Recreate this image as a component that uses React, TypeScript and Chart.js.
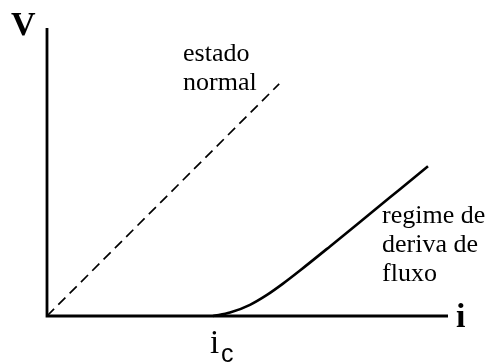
import React, { useEffect, useRef } from "react";
import { Chart, registerables } from "chart.js";

Chart.register(...registerables);

// Axes frame (data units)
const axisPoints = [
  { x: 0, y: 10 },
  { x: 0, y: 0 },
  { x: 10, y: 0 },
];

// "estado normal" dashed line
const normalX = [0, 5.79];
const normalY = [0, 8.06];

// "regime de deriva de fluxo" curve
const flowX = [4.14, 4.564, 5.062, 5.486, 5.885, 6.309, 7.057, 8.055, 8.803, 9.501];
const flowY = [0, 0.118, 0.389, 0.733, 1.125, 1.58, 2.417, 3.552, 4.405, 5.201];

const labelV = "V";
const labelI = "i";
const labelIc = ["i", "c"];
const labelNormal = ["estado", "normal"];
const labelFlow = ["regime de", "deriva de", "fluxo"];

const SERIF = '"Liberation Serif", "Times New Roman", serif';
const SANS = '"Liberation Sans", Arial, sans-serif';

const textPlugin = {
  id: "textLabels",
  afterDatasetsDraw(chart: any) {
    const ctx = chart.ctx as CanvasRenderingContext2D;
    ctx.save();
    ctx.fillStyle = "#000";
    ctx.textBaseline = "alphabetic";
    ctx.textAlign = "left";

    ctx.font = `bold 34px ${SERIF}`;
    ctx.fillText(labelV, 11, 35);
    ctx.fillText(labelI, 456, 327);

    ctx.font = `33px ${SERIF}`;
    ctx.fillText(labelIc[0], 210, 353);
    ctx.font = `25px ${SANS}`;
    ctx.fillText(labelIc[1], 221, 362);

    ctx.font = `26px ${SERIF}`;
    labelNormal.forEach((t, i) => ctx.fillText(t, 183, 61 + i * 29));
    labelFlow.forEach((t, i) => ctx.fillText(t, 382, 223 + i * 29));
    ctx.restore();
  },
};

export default function App() {
  const ref = useRef<HTMLCanvasElement | null>(null);

  useEffect(() => {
    if (!ref.current) return;
    const chart = new Chart(ref.current, {
      type: "scatter",
      data: {
        datasets: [
          {
            data: axisPoints,
            showLine: true,
            borderColor: "#000",
            borderWidth: 2.8,
            pointRadius: 0,
            borderJoinStyle: "miter",
            borderCapStyle: "butt",
            clip: false as any,
          },
          {
            data: normalX.map((x, i) => ({ x, y: normalY[i] })),
            showLine: true,
            borderColor: "#000",
            borderWidth: 1.7,
            borderDash: [10, 6],
            pointRadius: 0,
            clip: false as any,
          },
          {
            data: flowX.map((x, i) => ({ x, y: flowY[i] })),
            showLine: true,
            borderColor: "#000",
            borderWidth: 2.6,
            pointRadius: 0,
            cubicInterpolationMode: "monotone",
            clip: false as any,
          },
        ],
      },
      options: {
        responsive: false,
        animation: false,
        layout: { padding: { left: 47, top: 28, right: 40, bottom: 47 } },
        plugins: { legend: { display: false }, tooltip: { enabled: false } },
        scales: {
          x: { type: "linear", display: false, min: 0, max: 10 },
          y: { type: "linear", display: false, min: 0, max: 10 },
        },
      },
      plugins: [textPlugin],
    });
    return () => chart.destroy();
  }, []);

  return (
    <div style={{ position: "fixed", left: 0, top: 0, width: 488, height: 363, background: "#fff" }}>
      <canvas ref={ref} width={488} height={363} />
    </div>
  );
}
